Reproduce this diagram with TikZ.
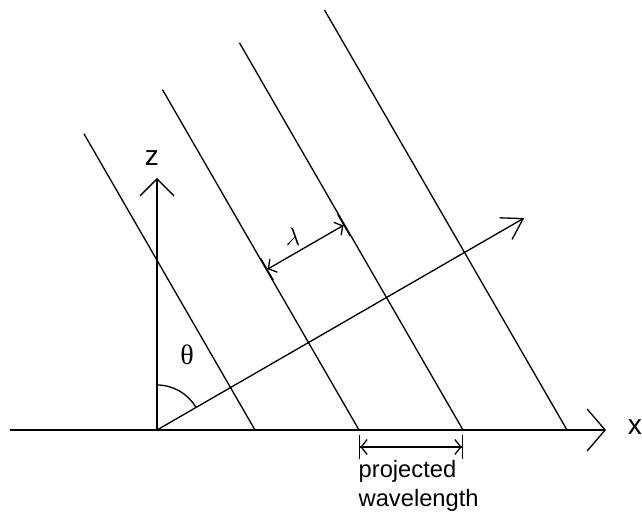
\documentclass[tikz,border=0pt]{standalone}
\usepackage{fontspec}
\setmainfont{Liberation Sans}
\newfontfamily\greekfont{Liberation Serif}
\usepackage{tikz}
\usetikzlibrary{arrows.meta, calc}

\begin{document}
\begin{tikzpicture}[x=0.02cm, y=0.02cm, line width=0.75pt,
    axis/.style={line width=1.4pt, -{Straight Barb[length=0.36cm, width=0.84cm, line width=0.75pt]}},
    front/.style={line width=0.75pt},
    dimline/.style={line width=0.75pt, {Bar[width=0.5cm]Straight Barb[length=0.12cm, width=0.3cm]}-{Straight Barb[length=0.12cm, width=0.3cm]Bar[width=0.5cm]}},
    lbl/.style={font=\fontsize{13.5}{16.5}\selectfont, inner sep=0pt}]
    \useasboundingbox (0,0) rectangle (642,517);

    % Axes
    \coordinate (O) at (157,87);
    \coordinate (xstart) at (10,87);
    \coordinate (xend) at (606,87);
    \coordinate (ztip) at (157,339);
    \draw[axis] (xstart) -- (xend);
    \draw[line width=0.9pt, -{Straight Barb[length=0.34cm, width=0.68cm, line width=0.75pt]}] (O) -- (ztip);
    \node[lbl, font=\fontsize{16}{19}\selectfont] (xlab) at (635,90) {x};
    \node[lbl, font=\fontsize{16}{19}\selectfont] (zlab) at (152,359) {z};

    % Wave fronts
    \foreach \i/\len in {0/342, 1/393, 2/447, 3/485} {
        \coordinate (b\i) at (255+104*\i, 87);
        \draw[front] (b\i) -- ++(120:\len) coordinate (t\i);
    }

    % Wave vector and angle
    \coordinate (ktip) at ($(O)+(30:424)$);
    \draw[-{Straight Barb[length=0.4cm, width=0.5cm]}] (O) -- (ktip);
    \draw (O) ++(0,45) arc[start angle=90, end angle=30, radius=45];
    \node[lbl] (theta) at (187,162) {\fontsize{16}{19}\selectfont\greekfont θ};

    % Wavelength
    \coordinate (lamA) at ($(b1)+(120:185)$);
    \coordinate (lamB) at ($(lamA)+(30:90.07)$);
    \draw[dimline] (lamA) -- (lamB);
    \node[lbl] (lam) at (293,280) {\fontsize{15}{18}\selectfont$\lambda$};

    % Projected wavelength
    \coordinate (pA) at (359,70);
    \coordinate (pB) at (463,70);
    \draw[dimline] (pA) -- (pB);
    \node[lbl, anchor=north west, align=left] (ptext) at (358,57) {projected\\wavelength};
\end{tikzpicture}
\end{document}
